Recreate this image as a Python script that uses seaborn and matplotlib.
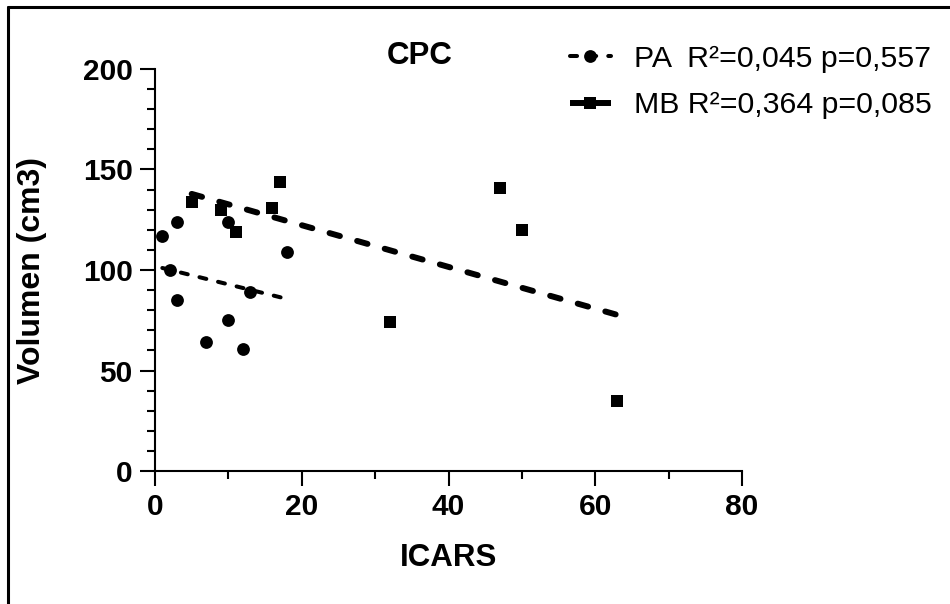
import matplotlib
matplotlib.use("Agg")
import matplotlib.pyplot as plt
from matplotlib.lines import Line2D
from matplotlib.ticker import MultipleLocator
import seaborn as sns

# ==========================
# data
# ==========================
pa_icars = [1, 2, 3, 3, 7, 10, 10, 12, 13, 18]
pa_vol = [117, 100, 124, 85, 64, 75, 124, 60.5, 89, 109]

mb_icars = [5, 9, 11, 16, 17, 32, 47, 50, 63]
mb_vol = [134, 130, 119, 131, 144, 74, 141, 120, 35]

pa_label = "PA  R²=0,045 p=0,557"
mb_label = "MB R²=0,364 p=0,085"

x_ticks = [0, 20, 40, 60, 80]
y_ticks = [0, 50, 100, 150, 200]

# ==========================
# style
# ==========================
sns.set_style("ticks")
plt.rcParams["font.family"] = ["Liberation Sans", "DejaVu Sans"]
plt.rcParams["font.weight"] = "bold"
for k in ["text.color", "axes.labelcolor", "xtick.color", "ytick.color", "axes.edgecolor"]:
    plt.rcParams[k] = "black"

fig = plt.figure(figsize=(9.5, 6.04), dpi=100)
ax = fig.add_axes([155 / 950, 1 - 471 / 604, 587 / 950, 402 / 604])

pa_line = dict(lw=2.9, ls=(0, (1.75, 3)), dash_capstyle="round", solid_capstyle="round")
mb_line = dict(lw=4.3, ls=(0, (1.8, 3)), dash_capstyle="round", solid_capstyle="round")

sns.regplot(x=pa_icars, y=pa_vol, ax=ax, ci=None, marker="o", color="black",
            scatter_kws=dict(s=85, linewidths=0, alpha=1), line_kws=pa_line)
sns.regplot(x=mb_icars, y=mb_vol, ax=ax, ci=None, marker="s", color="black",
            scatter_kws=dict(s=85, linewidths=0, alpha=1), line_kws=mb_line)

ax.set_xlim(0, 80)
ax.set_ylim(0, 200)
ax.set_xticks(x_ticks)
ax.set_yticks(y_ticks)
ax.xaxis.set_minor_locator(MultipleLocator(10))
ax.yaxis.set_minor_locator(MultipleLocator(10))
ax.tick_params(which="major", length=11, width=1.5, labelsize=21.5, pad=5)
ax.tick_params(which="minor", length=5.5, width=1.5)
for s in ["left", "bottom"]:
    ax.spines[s].set_linewidth(1.5)
sns.despine(ax=ax)

ax.set_xlabel("ICARS", fontsize=22.5, fontweight="bold")
ax.set_ylabel("Volumen (cm3)", fontsize=23, fontweight="bold")
ax.xaxis.set_label_coords(0.5, -0.179)
ax.yaxis.set_label_coords(-0.184, 0.5)

fig.text(420 / 950, 1 - 56 / 604, "CPC", ha="center", va="center",
         fontsize=22.5, fontweight="bold")

# legend
handles = [
    Line2D([], [], color="black", marker="o", markersize=9.2, markeredgewidth=0, **pa_line),
    Line2D([], [], color="black", marker="s", markersize=9.2, markeredgewidth=0,
           lw=4.3, ls="-", solid_capstyle="butt"),
]
fig.legend(handles, [pa_label, mb_label], loc="upper left",
           bbox_to_anchor=(570 / 950, 1 - 45 / 604), frameon=False,
           prop=dict(size=21.8, weight="normal"), handlelength=1.35,
           handletextpad=0.75, labelspacing=0.6, borderpad=0, borderaxespad=0)

# frame around the figure (only left and top edges visible)
fig.add_artist(Line2D([8 / 950, 8 / 950], [0, 1 - 7 / 604], color="black", lw=2.2,
                      transform=fig.transFigure))
fig.add_artist(Line2D([8 / 950, 1], [1 - 7 / 604, 1 - 7 / 604], color="black", lw=2.2,
                      transform=fig.transFigure))

fig.savefig("out.png", dpi=100)
